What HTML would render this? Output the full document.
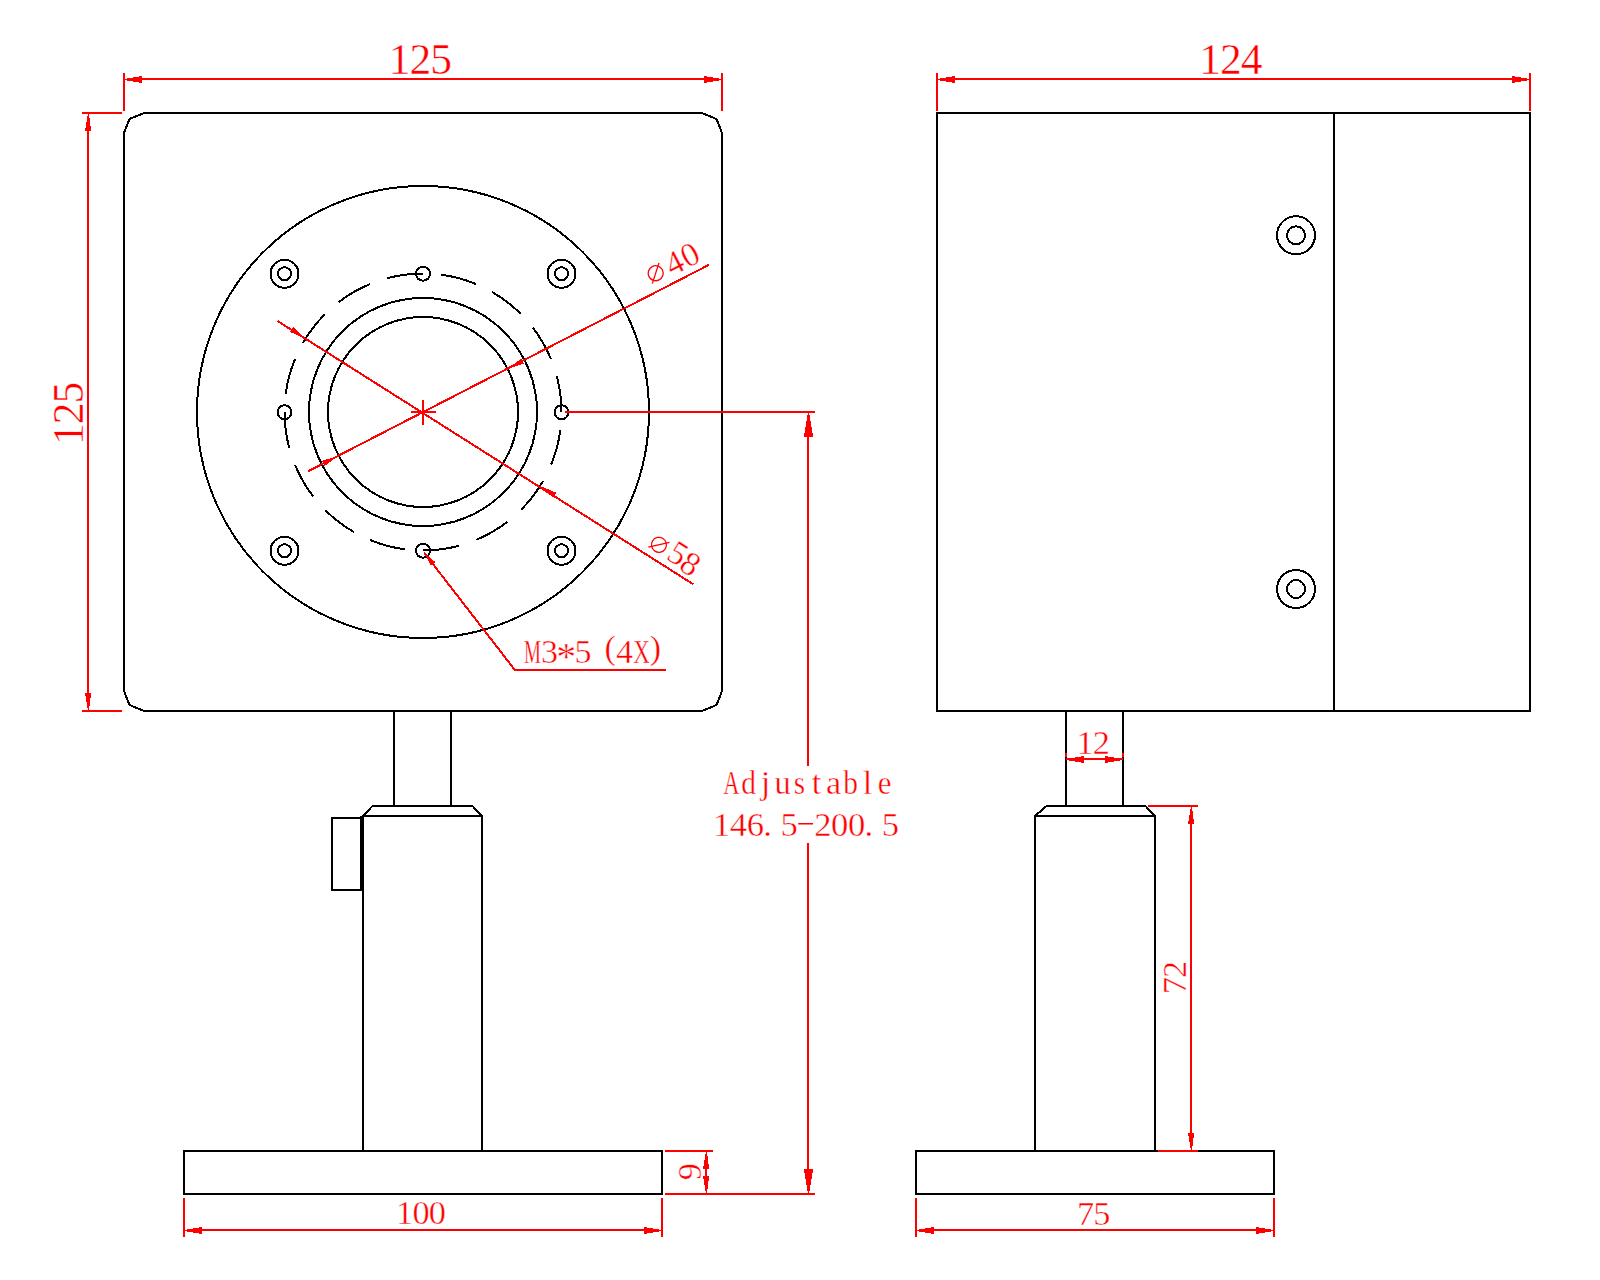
<!DOCTYPE html>
<html><head><meta charset="utf-8"><title>Dimension drawing</title>
<style>
html,body{margin:0;padding:0;background:#fff;}
body{width:1600px;height:1280px;overflow:hidden;}
svg{display:block;}
.k{fill:none;stroke:#000;stroke-width:2;shape-rendering:crispEdges;}
.r{fill:none;stroke:#f00;stroke-width:2;shape-rendering:crispEdges;}
.r .ah{fill:#f00;stroke:none;}
.t{font-family:"Liberation Serif",serif;fill:#f00;text-anchor:middle;}
.t text{stroke:#fff;stroke-width:0.42;}
.t .ph{fill:none;stroke:#f00;stroke-width:1.3;}
</style></head>
<body>
<svg width="1600" height="1280" viewBox="0 0 1600 1280">
<rect width="1600" height="1280" fill="#fff"/>
<g class="k">
<polygon points="124,133 129.5,119 144,113 702,113 716.5,119 722,133 722,691 716.5,705 702,711 144,711 129.5,705 124,691"/>
<circle cx="423" cy="412" r="226"/>
<circle cx="423" cy="412" r="114"/>
<circle cx="423" cy="412" r="95"/>
<path d="M561.5 412 A138.5 138.5 0 1 0 284.5 412 A138.5 138.5 0 1 0 561.5 412" stroke-dasharray="36.26 18.13"/>
<circle cx="423" cy="273.75" r="7"/>
<circle cx="423" cy="550.75" r="7"/>
<circle cx="284.5" cy="412.25" r="7"/>
<circle cx="561.5" cy="412.25" r="7"/>
<circle cx="284.5" cy="273.75" r="14"/>
<circle cx="284.5" cy="273.75" r="6.5"/>
<circle cx="284.5" cy="550.75" r="14"/>
<circle cx="284.5" cy="550.75" r="6.5"/>
<circle cx="561.5" cy="273.75" r="14"/>
<circle cx="561.5" cy="273.75" r="6.5"/>
<circle cx="561.5" cy="550.75" r="14"/>
<circle cx="561.5" cy="550.75" r="6.5"/>
<line x1="394" y1="711" x2="394" y2="806"/>
<line x1="451" y1="711" x2="451" y2="806"/>
<polyline points="363,816 372.5,806 472.5,806 482,816"/>
<line x1="362" y1="816" x2="483" y2="816"/>
<line x1="363" y1="816" x2="363" y2="1151"/>
<line x1="482" y1="816" x2="482" y2="1151"/>
<polyline points="361,818 332,818 332,890 361,890"/>
<line x1="361" y1="816" x2="361" y2="891"/>
<rect x="184" y="1151" width="478" height="43"/>
<rect x="937" y="113" width="593" height="598"/>
<line x1="1334" y1="113" x2="1334" y2="711"/>
<circle cx="1296" cy="235.25" r="19"/>
<circle cx="1296" cy="235.25" r="9"/>
<circle cx="1296" cy="589" r="19"/>
<circle cx="1296" cy="589" r="9"/>
<line x1="1066" y1="711" x2="1066" y2="806"/>
<line x1="1123" y1="711" x2="1123" y2="806"/>
<polyline points="1035,816 1046.5,806 1145.5,806 1155,816"/>
<line x1="1034" y1="816" x2="1156" y2="816"/>
<line x1="1035" y1="816" x2="1035" y2="1151"/>
<line x1="1155" y1="816" x2="1155" y2="1151"/>
<rect x="916" y="1151" width="358" height="43"/>
</g>
<g class="r">
<line x1="124" y1="73" x2="124" y2="111"/>
<line x1="722" y1="73" x2="722" y2="111"/>
<line x1="127" y1="79" x2="719" y2="79"/>
<rect class="ah" x="125" y="79" width="2" height="1"/>
<rect class="ah" x="127" y="78" width="6" height="3"/>
<rect class="ah" x="133" y="77" width="6" height="5"/>
<rect class="ah" x="139" y="76" width="3" height="7"/>
<rect class="ah" x="719" y="79" width="2" height="1"/>
<rect class="ah" x="713" y="78" width="6" height="3"/>
<rect class="ah" x="707" y="77" width="6" height="5"/>
<rect class="ah" x="704" y="76" width="3" height="7"/>
<line x1="82" y1="113" x2="122" y2="113"/>
<line x1="82" y1="711" x2="122" y2="711"/>
<line x1="88" y1="116" x2="88" y2="708"/>
<rect class="ah" x="88" y="114" width="1" height="2"/>
<rect class="ah" x="87" y="116" width="2" height="2"/>
<rect class="ah" x="87" y="118" width="3" height="4"/>
<rect class="ah" x="86" y="122" width="4" height="4"/>
<rect class="ah" x="86" y="126" width="5" height="2"/>
<rect class="ah" x="85" y="128" width="6" height="3"/>
<rect class="ah" x="88" y="708" width="1" height="2"/>
<rect class="ah" x="87" y="706" width="2" height="2"/>
<rect class="ah" x="87" y="702" width="3" height="4"/>
<rect class="ah" x="86" y="698" width="4" height="4"/>
<rect class="ah" x="86" y="696" width="5" height="2"/>
<rect class="ah" x="85" y="693" width="6" height="3"/>
<line x1="411" y1="412" x2="436" y2="412"/>
<line x1="423" y1="400" x2="423" y2="425"/>
<line x1="308.25" y1="471.2" x2="709" y2="264.8"/>
<polygon class="ah" points="507.49,368.78 521.33,358.51 523.89,363.5"/>
<polygon class="ah" points="338.51,455.62 324.67,465.89 322.11,460.9"/>
<line x1="277.5" y1="321" x2="693.5" y2="584.4"/>
<polygon class="ah" points="540.2,486.1 556.18,492.62 552.98,497.7"/>
<polygon class="ah" points="305.8,338.5 289.82,331.98 293.02,326.9"/>
<line x1="565" y1="412" x2="815" y2="412"/>
<line x1="808" y1="415" x2="808" y2="765.5"/>
<line x1="808" y1="843" x2="808" y2="1191"/>
<rect class="ah" x="808" y="413" width="1" height="2"/>
<rect class="ah" x="807" y="415" width="3" height="6"/>
<rect class="ah" x="806" y="421" width="5" height="6"/>
<rect class="ah" x="805" y="427" width="7" height="6"/>
<rect class="ah" x="804" y="433" width="9" height="4"/>
<rect class="ah" x="808" y="1191" width="1" height="2"/>
<rect class="ah" x="807" y="1185" width="3" height="6"/>
<rect class="ah" x="806" y="1179" width="5" height="6"/>
<rect class="ah" x="805" y="1173" width="7" height="6"/>
<rect class="ah" x="804" y="1169" width="9" height="4"/>
<line x1="665" y1="1194" x2="815" y2="1194"/>
<line x1="665" y1="1151" x2="713" y2="1151"/>
<line x1="706" y1="1154" x2="706" y2="1191"/>
<rect class="ah" x="706" y="1152" width="1" height="2"/>
<rect class="ah" x="705" y="1154" width="2" height="2"/>
<rect class="ah" x="705" y="1156" width="3" height="4"/>
<rect class="ah" x="704" y="1160" width="4" height="4"/>
<rect class="ah" x="704" y="1164" width="5" height="2"/>
<rect class="ah" x="703" y="1166" width="6" height="3"/>
<rect class="ah" x="706" y="1191" width="1" height="2"/>
<rect class="ah" x="705" y="1189" width="2" height="2"/>
<rect class="ah" x="705" y="1185" width="3" height="4"/>
<rect class="ah" x="704" y="1181" width="4" height="4"/>
<rect class="ah" x="704" y="1179" width="5" height="2"/>
<rect class="ah" x="703" y="1176" width="6" height="3"/>
<line x1="184" y1="1197.5" x2="184" y2="1236.5"/>
<line x1="662" y1="1197.5" x2="662" y2="1236.5"/>
<line x1="187" y1="1230" x2="659" y2="1230"/>
<rect class="ah" x="185" y="1230" width="2" height="1"/>
<rect class="ah" x="187" y="1229" width="6" height="3"/>
<rect class="ah" x="193" y="1228" width="6" height="5"/>
<rect class="ah" x="199" y="1227" width="3" height="7"/>
<rect class="ah" x="659" y="1230" width="2" height="1"/>
<rect class="ah" x="653" y="1229" width="6" height="3"/>
<rect class="ah" x="647" y="1228" width="6" height="5"/>
<rect class="ah" x="644" y="1227" width="3" height="7"/>
<polyline points="424,552.5 514.5,669.5 666,669.5"/>
<polygon class="ah" points="424,552.3 435.55,562.33 430.8,566"/>
<line x1="937" y1="73" x2="937" y2="111"/>
<line x1="1530" y1="73" x2="1530" y2="111"/>
<line x1="940" y1="79" x2="1527" y2="79"/>
<rect class="ah" x="938" y="79" width="2" height="1"/>
<rect class="ah" x="940" y="78" width="6" height="3"/>
<rect class="ah" x="946" y="77" width="6" height="5"/>
<rect class="ah" x="952" y="76" width="3" height="7"/>
<rect class="ah" x="1527" y="79" width="2" height="1"/>
<rect class="ah" x="1521" y="78" width="6" height="3"/>
<rect class="ah" x="1515" y="77" width="6" height="5"/>
<rect class="ah" x="1512" y="76" width="3" height="7"/>
<line x1="1066" y1="759" x2="1123" y2="759"/>
<line x1="1066" y1="753" x2="1066" y2="757"/>
<line x1="1123" y1="753" x2="1123" y2="757"/>
<rect class="ah" x="1067" y="759" width="2" height="1"/>
<rect class="ah" x="1069" y="758" width="6" height="3"/>
<rect class="ah" x="1075" y="757" width="6" height="5"/>
<rect class="ah" x="1081" y="756" width="3" height="7"/>
<rect class="ah" x="1120" y="759" width="2" height="1"/>
<rect class="ah" x="1114" y="758" width="6" height="3"/>
<rect class="ah" x="1108" y="757" width="6" height="5"/>
<rect class="ah" x="1105" y="756" width="3" height="7"/>
<line x1="1148" y1="806" x2="1197.5" y2="806"/>
<line x1="1158" y1="1151" x2="1197.5" y2="1151"/>
<line x1="1191" y1="809" x2="1191" y2="1148"/>
<rect class="ah" x="1191" y="807" width="1" height="2"/>
<rect class="ah" x="1190" y="809" width="2" height="2"/>
<rect class="ah" x="1190" y="811" width="3" height="4"/>
<rect class="ah" x="1189" y="815" width="4" height="4"/>
<rect class="ah" x="1189" y="819" width="5" height="2"/>
<rect class="ah" x="1188" y="821" width="6" height="3"/>
<rect class="ah" x="1191" y="1148" width="1" height="2"/>
<rect class="ah" x="1190" y="1146" width="2" height="2"/>
<rect class="ah" x="1190" y="1142" width="3" height="4"/>
<rect class="ah" x="1189" y="1138" width="4" height="4"/>
<rect class="ah" x="1189" y="1136" width="5" height="2"/>
<rect class="ah" x="1188" y="1133" width="6" height="3"/>
<line x1="916" y1="1197.5" x2="916" y2="1236.5"/>
<line x1="1274" y1="1197.5" x2="1274" y2="1236.5"/>
<line x1="919" y1="1230" x2="1271" y2="1230"/>
<rect class="ah" x="917" y="1230" width="2" height="1"/>
<rect class="ah" x="919" y="1229" width="6" height="3"/>
<rect class="ah" x="925" y="1228" width="6" height="5"/>
<rect class="ah" x="931" y="1227" width="3" height="7"/>
<rect class="ah" x="1271" y="1230" width="2" height="1"/>
<rect class="ah" x="1265" y="1229" width="6" height="3"/>
<rect class="ah" x="1259" y="1228" width="6" height="5"/>
<rect class="ah" x="1256" y="1227" width="3" height="7"/>
</g>
<g class="t">
<text x="399.55" y="73.6" font-size="43.5">1</text>
<text x="420.3" y="73.6" font-size="43.5">2</text>
<text x="441.05" y="73.6" font-size="43.5">5</text>
<text x="1210.15" y="73.6" font-size="43.5">1</text>
<text x="1230.9" y="73.6" font-size="43.5">2</text>
<text x="1251.65" y="73.6" font-size="43.5">4</text>
<g transform="translate(83 413.4) rotate(-90)">
<text x="-20.75" y="0" font-size="43.5">1</text>
<text x="0" y="0" font-size="43.5">2</text>
<text x="20.75" y="0" font-size="43.5">5</text>
</g>
<text x="404.6" y="1224.2" font-size="34.3">1</text>
<text x="421" y="1224.2" font-size="34.3">0</text>
<text x="437.4" y="1224.2" font-size="34.3">0</text>
<text x="1085.55" y="1224.6" font-size="34.3">7</text>
<text x="1101.95" y="1224.6" font-size="34.3">5</text>
<text x="1085" y="753.6" font-size="34.3">1</text>
<text x="1101.4" y="753.6" font-size="34.3">2</text>
<g transform="translate(1186 977.5) rotate(-90)">
<text x="-8.2" y="0" font-size="34.3">7</text>
<text x="8.2" y="0" font-size="34.3">2</text>
</g>
<g transform="translate(701.3 1171.75) rotate(-90)">
<text x="0" y="0" font-size="34.3">9</text>
</g>
<text transform="translate(731.5 793.9) scale(0.66 1)" font-size="34.2">A</text>
<text transform="translate(748.5 793.9) scale(0.86 1)" font-size="34.2">d</text>
<text x="765.5" y="793.9" font-size="34.2">j</text>
<text transform="translate(782.5 793.9) scale(0.95 1)" font-size="34.2">u</text>
<text transform="translate(799.5 793.9) scale(0.85 1)" font-size="34.2">s</text>
<text x="816.5" y="793.9" font-size="34.2">t</text>
<text x="833.5" y="793.9" font-size="34.2">a</text>
<text transform="translate(850.5 793.9) scale(0.86 1)" font-size="34.2">b</text>
<text x="867.5" y="793.9" font-size="34.2">l</text>
<text transform="translate(884.5 793.9) scale(0.9 1)" font-size="34.2">e</text>
<text x="721.63" y="835.9" font-size="34.6">1</text>
<text x="738.5" y="835.9" font-size="34.6">4</text>
<text x="755.38" y="835.9" font-size="34.6">6</text>
<text x="767.63" y="835.9" font-size="34.6">.</text>
<text x="789.12" y="835.9" font-size="34.6">5</text>
<text x="822.86" y="835.9" font-size="34.6">2</text>
<text x="839.73" y="835.9" font-size="34.6">0</text>
<text x="856.6" y="835.9" font-size="34.6">0</text>
<text x="868.85" y="835.9" font-size="34.6">.</text>
<text x="890.34" y="835.9" font-size="34.6">5</text>
<rect x="798.2" y="823" width="14.8" height="1.5"/>
<text transform="translate(532.5 663.1) scale(0.56 1)" font-size="34">M</text>
<text x="549.4" y="663.1" font-size="34">3</text>
<text x="566.25" y="669.5" font-size="40">*</text>
<text x="583.1" y="663.1" font-size="34">5</text>
<text x="610.2" y="658.8" font-size="34">(</text>
<text x="624.4" y="663.1" font-size="34">4</text>
<text transform="translate(641.5 663.1) scale(0.68 1)" font-size="34">X</text>
<text x="655.4" y="658.8" font-size="34">)</text>
<g transform="translate(709 264.6) rotate(-27.2)">
<circle class="ph" cx="-51.4" cy="-16.7" r="7.5"/><line class="ph" x1="-59.1" y1="-9" x2="-43.7" y2="-24.4"/>
<text x="-30" y="-6.4" font-size="33.5">4</text>
<text x="-12.6" y="-6.4" font-size="33.5">0</text>
</g>
<g transform="translate(693.5 584.3) rotate(32.2)">
<circle class="ph" cx="-50.3" cy="-15" r="7.5"/><line class="ph" x1="-58" y1="-7.3" x2="-42.6" y2="-22.7"/>
<text x="-29.5" y="-6.8" font-size="33.5">5</text>
<text x="-13.4" y="-4.7" font-size="33.5">8</text>
</g>
</g>
</svg>
</body></html>
